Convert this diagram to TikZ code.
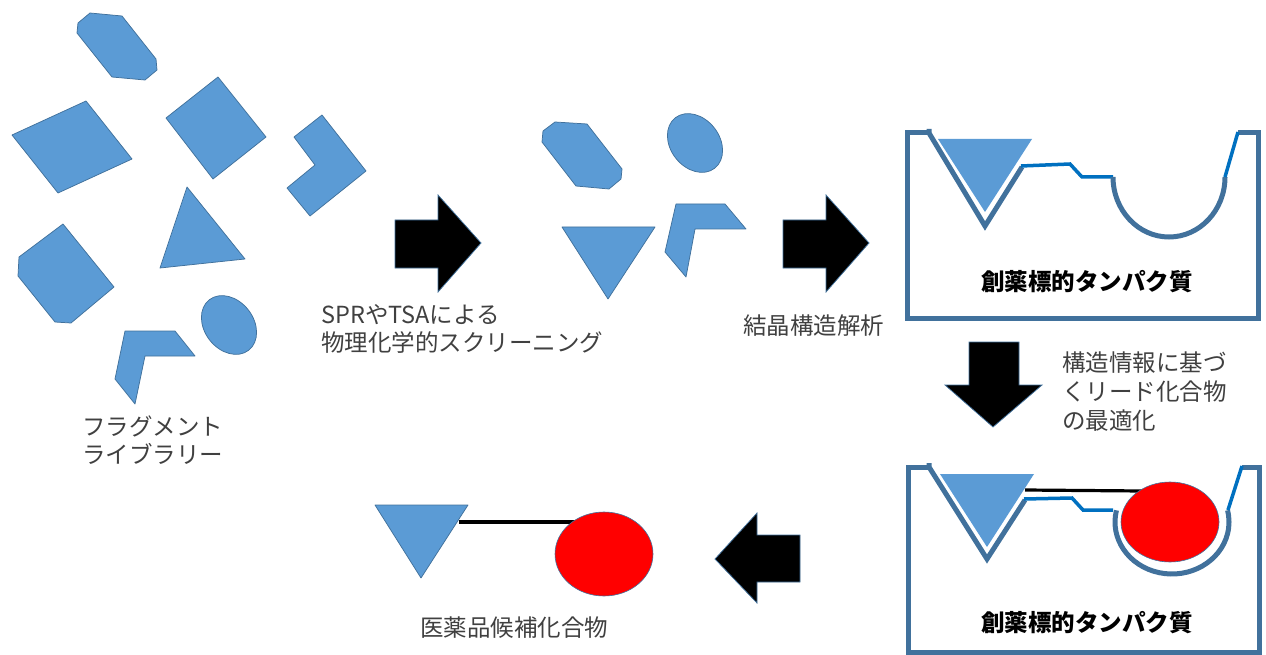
\documentclass[tikz,border=0pt]{standalone}
\usepackage{fontspec}
\setmainfont{Noto Sans CJK JP}
\definecolor{fragfill}{HTML}{5B9BD5}
\definecolor{fragline}{HTML}{41719C}
\definecolor{protline}{HTML}{41719C}
\definecolor{brightblue}{HTML}{0070C0}
\definecolor{textgray}{HTML}{404040}
\begin{document}
\begin{tikzpicture}[x=1pt,y=1pt,yscale=-1,
  frag/.style={fill=fragfill, draw=fragline, line width=0.75pt, line join=round},
  blockarrow/.style={fill=black, draw=fragline, line width=0.75pt},
  protein/.style={draw=protline, line width=5pt, line join=miter},
  brightline/.style={draw=brightblue, line width=3.5pt},
  bond/.style={draw=black, line width=3.2pt},
  ligand/.style={fill=red, draw=fragline, line width=0.6pt},
  lbl/.style={font=\fontsize{23.5}{28}\selectfont, text=textgray, inner sep=0pt, align=left, anchor=west},
  boxlbl/.style={font=\fontsize{23.5}{28}\selectfont\bfseries, text=black, inner sep=0pt}]
\path[use as bounding box] (0,0) rectangle (1266,655);

% ---- fragment library ----
\draw[frag] (90,13) -- (122,16) -- (156,59) -- (157,70) -- (145,80) -- (112,77) -- (77,33) -- (78,23) -- cycle;
\draw[frag] (12,135) -- (86,101) -- (132,159) -- (58,193) -- cycle;
\draw[frag] (166,118) -- (218,77) -- (266,137) -- (213,179) -- cycle;
\draw[frag] (322,115) -- (366,171) -- (310,216) -- (287,188) -- (315,165) -- (294,137) -- cycle;
\draw[frag] (187,187) -- (245,259) -- (160,268) -- cycle;
\draw[frag] (63,224) -- (114,287) -- (71,323) -- (55,322) -- (18,276) -- (19,257) -- cycle;
\draw[frag, rotate around={52:(229,325)}] (229,325) ellipse [x radius=32, y radius=24.5];
\draw[frag] (125,331) -- (175,331) -- (195,356) -- (145,356) -- (135,404) -- (115,379) -- cycle;
\node[lbl] (libtxt) at (82,440) {フラグメント\\ライブラリー};

% ---- arrow 1 ----
\draw[blockarrow] (395,220) -- (438,220) -- (438,195) -- (481,243) -- (438,292) -- (438,268) -- (395,268) -- cycle;
\node[lbl] (sprtxt) at (321,329) {SPRやTSAによる\\物理化学的スクリーニング};

% ---- hits ----
\draw[frag] (555,122) -- (587,124) -- (622,169) -- (621,179) -- (609,189) -- (576,186) -- (542,142) -- (543,131) -- cycle;
\draw[frag, rotate around={52:(695,143)}] (695,143) ellipse [x radius=32, y radius=24.5];
\draw[frag] (562,227) -- (655,227) -- (608,299) -- cycle;
\draw[frag] (676,204) -- (725,204) -- (746,229) -- (695,229) -- (686,277) -- (665,252) -- cycle;

% ---- arrow 2 ----
\draw[blockarrow] (783,220) -- (826,220) -- (826,195) -- (869,243) -- (826,292) -- (826,268) -- (783,268) -- cycle;
\node[lbl] (xtaltxt) at (743,326) {結晶構造解析};

% ---- protein 1 ----
\draw[protein] (931,133) -- (907,133) -- (907,318) -- (1258,318) -- (1258,133) -- (1238,133);
\draw[protein] (929,129) -- (929,133) -- (985,226) -- (1022,167);
\draw[brightline] (1021,166) -- (1070,164) -- (1082,177) -- (1113,177);
\draw[protein] (1113,177) arc[start angle=180, delta angle=-180, x radius=56, y radius=60];
\draw[brightline] (1225,177) -- (1238,132);
\draw[frag, draw=none] (938,139) -- (1032,139) -- (985,212) -- cycle;
\node[boxlbl] (prot1) at (1087,282) {創薬標的タンパク質};

% ---- down arrow ----
\draw[blockarrow] (969,342) -- (1019,342) -- (1019,385) -- (1042,385) -- (993,427) -- (945,385) -- (969,385) -- cycle;
\node[lbl, font=\fontsize{23.5}{29}\selectfont] (opttxt) at (1062,392) {構造情報に基づ\\くリード化合物\\の最適化};

% ---- protein 2 ----
\draw[protein] (931,467) -- (908,467) -- (908,652) -- (1259,652) -- (1259,467) -- (1242,467);
\draw[protein] (929,463) -- (929,467) -- (987,559) -- (1025,500);
\draw[brightline] (1024,499) -- (1072,498) -- (1083,510) -- (1113,510);
\draw[protein] (1172,522) ++(193:57 and 52) arc[start angle=193, delta angle=-206, x radius=57, y radius=52];
\draw[brightline] (1228,510) -- (1242,466);
\draw[frag, draw=none] (940,474) -- (1034,474) -- (987,547) -- cycle;
\coordinate (b2a) at (1025,490);
\coordinate (b2b) at (1142,491);
\draw[bond] (b2a) -- (b2b);
\draw[ligand] (1170,522) ellipse [x radius=49, y radius=40];
\node[boxlbl] (prot2) at (1087,623) {創薬標的タンパク質};

% ---- left arrow ----
\draw[blockarrow] (800,535) -- (757,535) -- (757,513) -- (715,559) -- (757,603) -- (757,582) -- (800,582) -- cycle;

% ---- candidate ----
\draw[frag] (375,505) -- (468,505) -- (421,578) -- cycle;
\coordinate (b3a) at (459,522);
\coordinate (b3b) at (575,522);
\draw[bond] (b3a) -- (b3b);
\draw[ligand] (604,554) ellipse [x radius=49, y radius=42];
\node[boxlbl, font=\fontsize{23.5}{28}\selectfont, text=textgray] (candtxt) at (514,628) {医薬品候補化合物};
\end{tikzpicture}
\end{document}
